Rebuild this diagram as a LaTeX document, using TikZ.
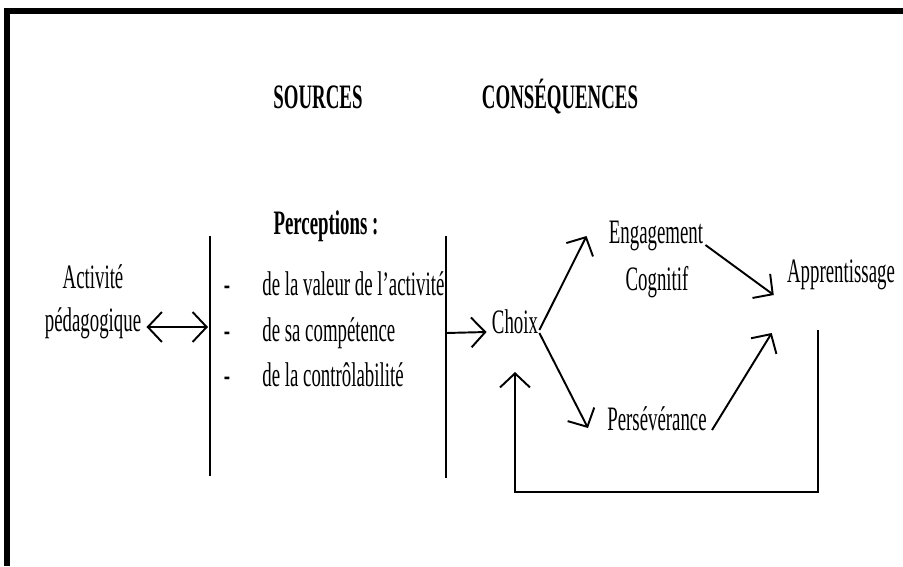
\documentclass[tikz,border=0pt]{standalone}
\usepackage{fontspec}
\setmainfont{Liberation Serif}[FakeStretch=0.55]
\usepackage{tikz}
\usetikzlibrary{arrows.meta,calc,positioning}

\begin{document}
\begin{tikzpicture}[x=0.02cm, y=-0.02cm, font=\fontsize{19.5}{22}\selectfont,
    mot/.style={inner sep=0pt, anchor=base},
    item/.style={inner sep=0pt, anchor=base west},
    titre/.style={mot, font=\fontsize{19.5}{22}\selectfont\bfseries},
    fleche/.style={-{Straight Barb[length=8pt,width=17pt]}, line width=1.1pt},
    barre/.style={line width=0.8pt}]
    \useasboundingbox (0,0) rectangle (903,566);
    \draw[line width=3.2pt] (7,566) -- (7,11) -- (903,11); % cadre

    \node[titre] (sources) at (318,108) {SOURCES};
    \node[titre] (conseq) at (560,108) {CONSÉQUENCES};
    \node[titre] (percep) at (326,234) {Perceptions :};

    \node[mot] (activite) at (93,288) {Activité};
    \node[mot] (pedago) at (93,331) {pédagogique};

    \node[mot] (tiret1) at (227,295) {-};
    \node[mot] (tiret2) at (227,341) {-};
    \node[mot] (tiret3) at (227,386) {-};
    \node[item] (valeur) at (262,295) {de la valeur de l’activité};
    \node[item] (compet) at (262,341) {de sa compétence};
    \node[item] (control) at (262,386) {de la contrôlabilité};

    \node[mot] (choix) at (515,333) {Choix};
    \node[mot] (engag) at (656,243) {Engagement};
    \node[mot] (cognitif) at (657,290) {Cognitif};
    \node[mot] (persev) at (657,430) {Persévérance};
    \node[mot] (apprent) at (841,282) {Apprentissage};

    \coordinate (sepA top) at (210,236);
    \coordinate (sepA bot) at (210,476);
    \coordinate (sepB top) at (446,236);
    \coordinate (sepB bot) at (446,478);
    \draw[barre] (sepA top) -- (sepA bot);
    \draw[barre] (sepB top) -- (sepB bot);

    \draw[fleche, {Straight Barb[length=8pt,width=17pt]}-{Straight Barb[length=8pt,width=17pt]}]
        ($(pedago.base east)+(5,-4)$) -- ($(pedago.base east -| sepA top)+(-2,-4)$);
    \draw[fleche] (choix.base west -| sepB top) -- ($(choix.base west)+(-5,-1)$);
    \draw[fleche] ($(choix.base east)+(1,-3)$) -- ($(engag.base west)+(-22,-7)$);
    \draw[fleche] ($(choix.base east)+(1,0)$) -- ($(persev.base west)+(-19,-2)$);
    \draw[fleche] ($(engag.base east)+(2,2)$) -- ($(apprent.base west)+(-13,13)$);
    \draw[fleche] ($(persev.base east)+(5,0)$) -- ($(apprent.base west)+(-15,51)$);
    \draw[fleche] ($(apprent.base)+(-23,48)$) -- ++(0,162) -| ($(choix.base)+(0,39)$); % retour
\end{tikzpicture}
\end{document}
